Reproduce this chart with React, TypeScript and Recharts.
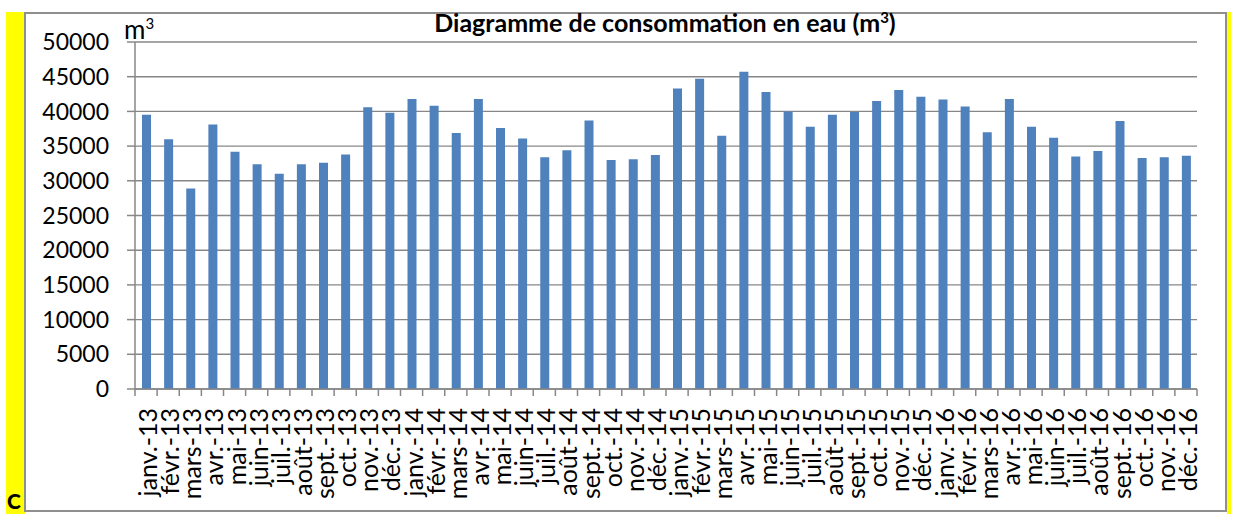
import React from 'react';
import { BarChart, Bar, XAxis, YAxis, CartesianGrid } from 'recharts';

const categories: string[] = [
  'janv.-13', 'févr.-13', 'mars-13', 'avr.-13', 'mai-13', 'juin-13', 'juil.-13', 'août-13', 'sept.-13', 'oct.-13', 'nov.-13', 'déc.-13',
  'janv.-14', 'févr.-14', 'mars-14', 'avr.-14', 'mai-14', 'juin-14', 'juil.-14', 'août-14', 'sept.-14', 'oct.-14', 'nov.-14', 'déc.-14',
  'janv.-15', 'févr.-15', 'mars-15', 'avr.-15', 'mai-15', 'juin-15', 'juil.-15', 'août-15', 'sept.-15', 'oct.-15', 'nov.-15', 'déc.-15',
  'janv.-16', 'févr.-16', 'mars-16', 'avr.-16', 'mai-16', 'juin-16', 'juil.-16', 'août-16', 'sept.-16', 'oct.-16', 'nov.-16', 'déc.-16',
];

const consumption: number[] = [
  39500, 36000, 28900, 38100, 34200, 32400, 31000, 32400, 32600, 33800, 40600, 39800,
  41800, 40800, 36900, 41800, 37600, 36100, 33400, 34400, 38700, 33000, 33100, 33700,
  43300, 44700, 36500, 45700, 42800, 40000, 37800, 39500, 39900, 41500, 43100, 42100,
  41700, 40700, 37000, 41800, 37800, 36200, 33500, 34300, 38600, 33300, 33400, 33600,
];

const yTicks: number[] = [0, 5000, 10000, 15000, 20000, 25000, 30000, 35000, 40000, 45000, 50000];

const titleText = 'Diagramme de consommation en eau (m';
const unitText = 'm';

const data = categories.map((month, i) => ({ month, value: consumption[i] }));

const FONT = 'Lato, "Open Sans", sans-serif';
const GRID = '#878787';
const X_TICK_SIZE = 7;
const X_TICK_MARGIN = 12;

const MonthTick = (props: any) => {
  const { x, y, payload, index, visibleTicksCount, width } = props;
  const half = payload && payload.offset != null && payload.offset > 0
    ? payload.offset
    : width / visibleTicksCount / 2;
  const y0 = y - X_TICK_MARGIN - X_TICK_SIZE;
  const y1 = y - X_TICK_MARGIN;
  return (
    <g>
      <line x1={x - half} x2={x - half} y1={y0} y2={y1} stroke={GRID} strokeWidth={1.5} />
      {index === visibleTicksCount - 1 && (
        <line x1={x + half} x2={x + half} y1={y0} y2={y1} stroke={GRID} strokeWidth={1.5} />
      )}
      <text
        x={x + 1}
        y={y}
        transform={`rotate(-90, ${x + 1}, ${y})`}
        textAnchor="end"
        dominantBaseline="central"
        fill="#000"
        fontSize={25}
        fontFamily={FONT}
      >
        {payload.value}
      </text>
    </g>
  );
};

export default function App() {
  return (
    <div style={{ position: 'absolute', left: 0, top: 0, width: 1239, height: 514, background: '#fff', overflow: 'hidden' }}>
      <div style={{ position: 'absolute', left: 6, top: 12, width: 19, height: 502, background: '#ffff00' }} />
      <div style={{ position: 'absolute', left: 1227, top: 12, width: 4, height: 502, background: '#ffff00' }} />
      <div style={{ position: 'absolute', left: 24, top: 12, width: 1203, height: 500, border: '2px solid #8f8f8f', boxSizing: 'border-box', background: '#fff' }} />
      <div style={{ position: 'absolute', left: 0, top: 0 }}>
        <BarChart
          width={1239}
          height={514}
          data={data}
          margin={{ top: 42, right: 42, left: 35, bottom: 0 }}
          barCategoryGap={0}
        >
          <CartesianGrid vertical={false} stroke={GRID} strokeWidth={1.4} />
          <YAxis
            domain={[0, 50000]}
            ticks={yTicks}
            interval={0}
            width={100}
            tickSize={8}
            tickMargin={18}
            axisLine={{ stroke: GRID, strokeWidth: 1.5 }}
            tickLine={{ stroke: GRID, strokeWidth: 1.5 }}
            tick={{ fill: '#000', fontSize: 23, fontFamily: FONT }}
          />
          <XAxis
            dataKey="month"
            interval={0}
            height={125}
            tickSize={X_TICK_SIZE}
            tickMargin={X_TICK_MARGIN}
            tickLine={false}
            axisLine={{ stroke: GRID, strokeWidth: 1.5 }}
            tick={<MonthTick />}
          />
          <Bar dataKey="value" fill="#4F81BD" barSize={9} isAnimationActive={false} />
        </BarChart>
      </div>
      <svg width={1239} height={514} style={{ position: 'absolute', left: 0, top: 0, pointerEvents: 'none' }}>
        <text x={665} y={32} textAnchor="middle" fontFamily={FONT} fontWeight="bold" fontSize={25} fill="#000">
          {titleText}
          <tspan dy={-9} fontSize={15}>3</tspan>
          <tspan dy={9}>)</tspan>
        </text>
        <text x={124} y={39} fontFamily={FONT} fontSize={26} fill="#000">
          {unitText}
          <tspan dy={-10} fontSize={15}>3</tspan>
        </text>
        <text x={7} y={509} fontFamily={FONT} fontWeight={900} fontSize={21} fill="#000">C</text>
      </svg>
    </div>
  );
}
